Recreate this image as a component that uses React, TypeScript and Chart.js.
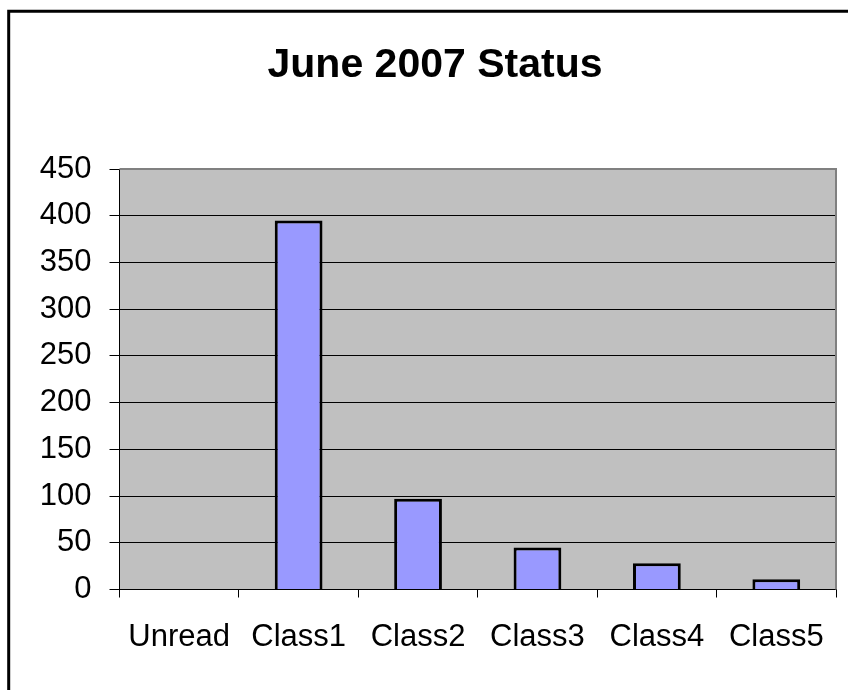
import React, { useEffect, useRef } from "react";
import { Chart, registerables } from "chart.js";

Chart.register(...registerables);

const categories = ["Unread", "Class1", "Class2", "Class3", "Class4", "Class5"];
const values = [0, 395, 97, 45, 28, 11];
const yMin = 0;
const yMax = 450;
const yStep = 50;
const titleText = "June 2007 Status";

const FONT = "'Liberation Sans', Arial, sans-serif";

const decorPlugin = {
  id: "decor",
  beforeDraw(chart: any) {
    const { ctx, chartArea } = chart;
    ctx.save();
    ctx.fillStyle = "#ffffff";
    ctx.fillRect(0, 0, chart.width, chart.height);
    ctx.fillStyle = "#C0C0C0";
    ctx.fillRect(chartArea.left, chartArea.top, chartArea.right - chartArea.left, chartArea.bottom - chartArea.top);
    ctx.restore();
  },
  afterDraw(chart: any) {
    const { ctx, chartArea } = chart;
    ctx.save();
    // plot area gray border (top and right)
    ctx.strokeStyle = "#808080";
    ctx.lineWidth = 2;
    ctx.beginPath();
    ctx.moveTo(chartArea.left, chartArea.top);
    ctx.lineTo(chartArea.right, chartArea.top);
    ctx.lineTo(chartArea.right, chartArea.bottom);
    ctx.stroke();
    // outer chart border (top and left visible; frame continues beyond view)
    ctx.strokeStyle = "#000000";
    ctx.lineWidth = 3;
    ctx.beginPath();
    ctx.moveTo(8.7, chart.height);
    ctx.lineTo(8.7, 11.3);
    ctx.lineTo(chart.width, 11.3);
    ctx.stroke();
    // title, centred on the outer frame
    ctx.fillStyle = "#000";
    ctx.font = `bold 41px ${FONT}`;
    ctx.textAlign = "center";
    ctx.textBaseline = "alphabetic";
    ctx.fillText(titleText, 435, 77);
    ctx.restore();
  },
};

export default function App() {
  const ref = useRef<HTMLCanvasElement | null>(null);
  useEffect(() => {
    if (!ref.current) return;
    const chart = new Chart(ref.current, {
      type: "bar",
      data: {
        labels: categories,
        datasets: [
          {
            data: values,
            backgroundColor: "#9999FF",
            borderColor: "#000000",
            borderWidth: 3,
            barPercentage: 0.4,
            categoryPercentage: 1,
          },
        ],
      },
      options: {
        responsive: false,
        animation: false,
        layout: { padding: { left: 0, right: 12, top: 169, bottom: 0 } },
        plugins: {
          legend: { display: false },
          tooltip: { enabled: false },
          title: { display: false },
        },
        scales: {
          x: {
            offset: true,
            grid: {
              offset: true,
              drawOnChartArea: false,
              drawTicks: true,
              tickLength: 8,
              color: "#000",
              lineWidth: 1,
            },
            border: { display: true, color: "#000", width: 1 },
            ticks: {
              color: "#000",
              font: { family: FONT, size: 31 },
              padding: 21,
              maxRotation: 0,
              autoSkip: false,
            },
            afterFit: (scale: any) => {
              scale.height = 100.5;
            },
          },
          y: {
            min: yMin,
            max: yMax,
            grid: {
              color: "#000",
              lineWidth: 1,
              drawTicks: true,
              tickLength: 10,
            },
            border: { display: true, color: "#000", width: 1 },
            ticks: {
              stepSize: yStep,
              color: "#000",
              font: { family: FONT, size: 31 },
              padding: 18,
            },
            afterFit: (scale: any) => {
              scale.width = 119.5;
            },
          },
        },
      },
      plugins: [decorPlugin],
    });
    return () => chart.destroy();
  }, []);
  return (
    <div style={{ position: "absolute", left: 0, top: 0, width: 848, height: 690 }}>
      <canvas ref={ref} width={848} height={690} />
    </div>
  );
}
